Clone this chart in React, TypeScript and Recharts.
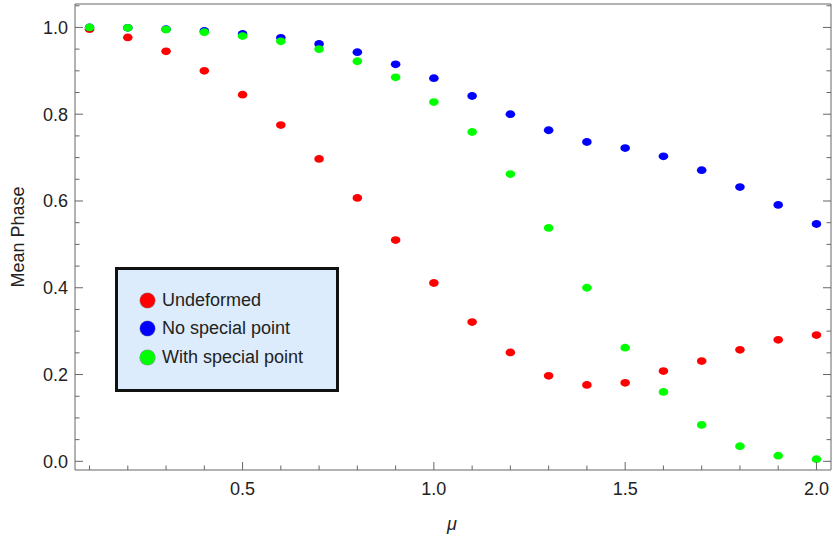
import React from "react"
import { ScatterChart, Scatter, XAxis, YAxis } from "recharts"

const mu = [0.1, 0.2, 0.3, 0.4, 0.5, 0.6, 0.7, 0.8, 0.9, 1.0, 1.1, 1.2, 1.3, 1.4, 1.5, 1.6, 1.7, 1.8, 1.9, 2.0]
const undeformed = [0.996, 0.977, 0.945, 0.9, 0.845, 0.775, 0.697, 0.607, 0.51, 0.411, 0.321, 0.251, 0.197, 0.176, 0.181, 0.208, 0.231, 0.257, 0.28, 0.291]
const noSpecial = [1.0, 0.999, 0.996, 0.992, 0.985, 0.976, 0.962, 0.943, 0.915, 0.883, 0.842, 0.8, 0.763, 0.736, 0.722, 0.703, 0.671, 0.632, 0.591, 0.547]
const withSpecial = [1.0, 0.999, 0.995, 0.989, 0.98, 0.968, 0.95, 0.922, 0.885, 0.828, 0.759, 0.662, 0.538, 0.4, 0.262, 0.16, 0.084, 0.035, 0.013, 0.005]

const xTicks = mu
const yTicks = [0, 0.05, 0.1, 0.15, 0.2, 0.25, 0.3, 0.35, 0.4, 0.45, 0.5, 0.55, 0.6, 0.65, 0.7, 0.75, 0.8, 0.85, 0.9, 0.95, 1.0, 1.05]

const seriesNames = ["Undeformed", "No special point", "With special point"]
const seriesColors = ["#ff0000", "#0000ff", "#00ff00"]
const seriesValues = [undeformed, noSpecial, withSpecial]

const FRAME = "#666"
const LABEL = "#222"
const FONT = "'Liberation Sans', Arial, sans-serif"

const isMajorX = (v: number) => Math.abs(v * 2 - Math.round(v * 2)) < 1e-6
const isMajorY = (v: number) => Math.abs(v * 5 - Math.round(v * 5)) < 1e-6

const BottomTick = ({ x, y, payload }: any) => {
  const v = payload.value
  const major = isMajorX(v)
  return (
    <g>
      <line x1={x} x2={x} y1={y} y2={y - (major ? 8 : 4.5)} stroke={FRAME} />
      {major && (
        <text x={x} y={y + 25} textAnchor="middle" fontSize={18} fill={LABEL} fontFamily={FONT}>
          {v.toFixed(1)}
        </text>
      )}
    </g>
  )
}

const TopTick = ({ x, y, payload }: any) => {
  const major = isMajorX(payload.value)
  return <line x1={x} x2={x} y1={y} y2={y + (major ? 8 : 4.5)} stroke={FRAME} />
}

const LeftTick = ({ x, y, payload }: any) => {
  const v = payload.value
  const major = isMajorY(v)
  return (
    <g>
      <line x1={x} x2={x + (major ? 8 : 4.5)} y1={y} y2={y} stroke={FRAME} />
      {major && v <= 1.0001 && (
        <text x={x - 7} y={y + 6.5} textAnchor="end" fontSize={18} fill={LABEL} fontFamily={FONT}>
          {v.toFixed(1)}
        </text>
      )}
    </g>
  )
}

const RightTick = ({ x, y, payload }: any) => {
  const major = isMajorY(payload.value)
  return <line x1={x} x2={x - (major ? 8 : 4.5)} y1={y} y2={y} stroke={FRAME} />
}

const Dot = ({ cx, cy, fill }: any) => <ellipse cx={cx} cy={cy} rx={4.8} ry={3.9} fill={fill} />

const xDomain = [0.062, 2.038]
const yDomain = [-0.02, 1.054]

export default function App() {
  return (
    <div style={{ position: "absolute", left: 0, top: 0, width: 832, height: 536, background: "#fff", fontFamily: FONT }}>
      <ScatterChart width={832} height={536} margin={{ top: 3, right: 0, bottom: 65, left: 74 }}>
        <XAxis type="number" dataKey="x" domain={xDomain} ticks={xTicks} interval={0} height={1}
          tickSize={0} tickMargin={0} tickLine={false} tick={<BottomTick />} stroke={FRAME} allowDataOverflow />
        <XAxis xAxisId="top" orientation="top" type="number" domain={xDomain} ticks={xTicks} interval={0} height={1}
          tickSize={0} tickMargin={0} tickLine={false} tick={<TopTick />} stroke={FRAME} allowDataOverflow />
        <YAxis type="number" dataKey="y" domain={yDomain} ticks={yTicks} interval={0} width={1}
          tickSize={0} tickMargin={0} tickLine={false} tick={<LeftTick />} stroke={FRAME} allowDataOverflow />
        <YAxis yAxisId="right" orientation="right" type="number" domain={yDomain} ticks={yTicks} interval={0} width={1}
          tickSize={0} tickMargin={0} tickLine={false} tick={<RightTick />} stroke={FRAME} allowDataOverflow />
        {seriesValues.map((vals, i) => (
          <Scatter
            key={seriesNames[i]}
            name={seriesNames[i]}
            data={mu.map((m, j) => ({ x: m, y: vals[j] }))}
            fill={seriesColors[i]}
            shape={<Dot />}
            isAnimationActive={false}
          />
        ))}
      </ScatterChart>
      <div style={{ position: "absolute", left: 18, top: 237, transform: "translate(-50%, -50%) rotate(-90deg)", whiteSpace: "nowrap", fontSize: 18, lineHeight: "20px", color: LABEL }}>
        Mean Phase
      </div>
      <div style={{ position: "absolute", left: 452, top: 524, transform: "translate(-50%, -50%)", fontSize: 18, lineHeight: "18px", fontStyle: "italic", color: LABEL }}>
        μ
      </div>
      <div style={{ position: "absolute", left: 115, top: 267, width: 224, height: 125, boxSizing: "border-box", border: "3px solid #111", background: "#ddecfc" }}>
        {seriesNames.map((n, i) => (
          <div key={n} style={{ position: "absolute", left: 22, top: 20 + i * 28.5, height: 20, display: "flex", alignItems: "center" }}>
            <span style={{ display: "inline-block", width: 15, height: 15, borderRadius: 8, background: seriesColors[i], boxShadow: "0 0 0 0.6px rgba(0,0,0,0.35)" }} />
            <span style={{ marginLeft: 7, fontSize: 18, color: LABEL }}>{n}</span>
          </div>
        ))}
      </div>
    </div>
  )
}
